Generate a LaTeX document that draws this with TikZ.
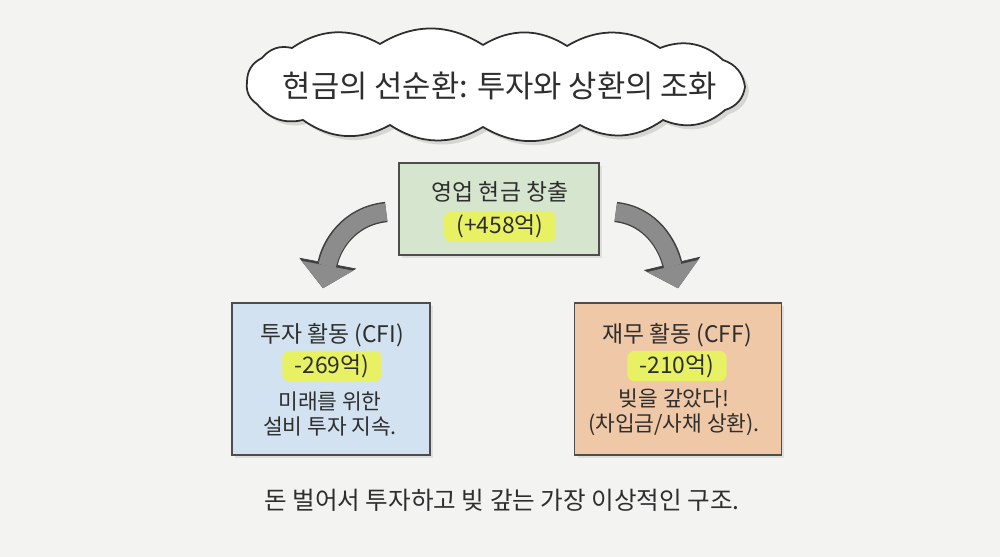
\documentclass[tikz,border=0pt]{standalone}
\usepackage{fontspec}
\setmainfont{Noto Sans CJK KR}
\usepackage{xcolor}
\usetikzlibrary{positioning, arrows.meta, shadows}

\definecolor{bgpaper}{HTML}{F3F3F1}
\definecolor{ink}{HTML}{2E2E2E}
\definecolor{opgreen}{HTML}{D5E5CE}
\definecolor{invblue}{HTML}{D3E2F0}
\definecolor{finorange}{HTML}{EFC8A7}
\definecolor{marker}{HTML}{E8F163}

\begin{document}
\begin{tikzpicture}[
      x=0.02cm, y=-0.02cm,
      font=\fontsize{13}{15}\selectfont, text=ink,
      sheet/.style={draw=ink!85, line width=0.9pt, inner sep=0pt, drop shadow={opacity=0.18, shadow xshift=0.6mm, shadow yshift=-0.6mm}},
      hl/.style={fill=marker, rounded corners=4pt, inner xsep=7pt, inner ysep=2pt},
      note/.style={font=\fontsize{12.2}{14.2}\selectfont, align=center},
      puff/.style={bend left=32},
      bigarr/.style={line width=10pt, black!45, -{Triangle[length=13pt, width=30pt, line width=0.4pt]},
        preaction={draw, line width=11.6pt, black!75, -{Triangle[length=14.5pt, width=33pt, line width=0.4pt]}}}
    ]
    \fill[bgpaper] (0,0) rectangle (1000,557);
    \useasboundingbox (0,0) rectangle (1000,557);
    %% title cloud
    \filldraw[fill=white, draw=ink, line width=1pt, line join=round,
      drop shadow={opacity=0.25, shadow xshift=0.8mm, shadow yshift=-0.8mm}]
      (247,82) to[puff] (262,58) to[puff] (292,48) to[puff] (380,44) to[puff] (483,45)
      to[puff] (567,46) to[puff] (660,48) to[puff] (723,60) to[puff] (745,87)
      to[puff] (725,110) to[puff] (663,120) to[puff] (580,125) to[puff] (483,127)
      to[puff] (390,125) to[puff] (303,120) to[puff] (257,104) to[puff] (247,82);
    \node[font=\fontsize{17.5}{20}\selectfont] (title) at (500,86) {현금의 선순환: 투자와 상환의 조화};
    %% operating cash
    \node[sheet, fill=opgreen, minimum width=4cm, minimum height=1.84cm] (cfo) at (499,209) {};
    \node (cfot) at (500,192) {영업 현금 창출};
    \node[hl, below=0.5mm of cfot] (cfov) {(+458억)};
    %% investing
    \node[sheet, fill=invblue, minimum width=3.96cm, minimum height=3.04cm] (cfi) at (331,379) {};
    \node (cfit) at (332,335) {투자 활동 (CFI)};
    \node[hl, below=-0.5mm of cfit] (cfiv) {-269억)};
    \node[note] (cfin) at (330,414) {미래를 위한\\설비 투자 지속.};
    %% financing
    \node[sheet, fill=finorange, minimum width=4.14cm, minimum height=3.04cm] (cff) at (678,379) {};
    \node (cfft) at (677,335) {재무 활동 (CFF)};
    \node[hl, below=-0.5mm of cfft] (cffv) {-210억)};
    \node[note] (cffn) at (674,412) {빚을 갚았다!\\(차입금/사채 상환).};
    %% arrows
    \coordinate (ltail) at ([shift={(-12,3)}]cfo.west);
    \coordinate (lhead) at ([shift={(-8,-14)}]cfi.north);
    \coordinate (rtail) at ([shift={(16,3)}]cfo.east);
    \coordinate (rhead) at ([shift={(0,-14)}]cff.north);
    \draw[bigarr] (ltail) .. controls +(-38,4) and +(8,-42) .. (lhead);
    \draw[bigarr] (rtail) .. controls +(36,4) and +(-10,-42) .. (rhead);
    %% bottom line
    \node[font=\fontsize{14}{16}\selectfont] (moral) at (502,500) {돈 벌어서 투자하고 빚 갚는 가장 이상적인 구조.};
  \end{tikzpicture}
\end{document}
